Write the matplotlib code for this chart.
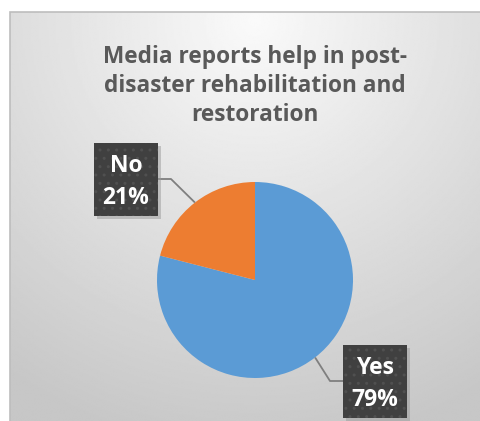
import numpy as np
import matplotlib
matplotlib.use("Agg")
import matplotlib.pyplot as plt
from matplotlib.patches import Rectangle

# data
labels = ["Yes", "No"]
shares = [79, 21]
colors = ["#5B9BD5", "#ED7D31"]
title = "Media reports help in post-\ndisaster rehabilitation and\nrestoration"

W, H = 480, 421
FONT = ["Open Sans", "DejaVu Sans"]

def main():
	fig = plt.figure(figsize=(W / 100, H / 100), dpi=100)
	fig.patch.set_facecolor("white")
	ax = fig.add_axes([0, 0, 1, 1])

	cx, cy, r = 255, H - 280, 98
	ax.pie(shares, colors=colors, startangle=90, counterclock=False,
		center=(cx, cy), radius=r, frame=True,
		wedgeprops=dict(linewidth=0, zorder=2))
	ax.set_aspect("equal")
	ax.axis("off")

	# chart area with radial grey gradient
	x0, y0 = 10, -2
	x1, y1 = W + 2, H - 12
	gx, gy = np.meshgrid(np.linspace(x0, x1, 300), np.linspace(y0, y1, 300))
	d = np.hypot(gx - 255, gy - (H - 20))
	v = 0.98 - 0.20 * np.clip(d / 430.0, 0, 1)
	ax.imshow(v, extent=(x0, x1, y0, y1), origin="lower", cmap="gray",
		vmin=0, vmax=1, zorder=0, interpolation="bilinear")
	ax.add_patch(Rectangle((x0, y0), x1 - x0, y1 - y0, fill=False,
		edgecolor="#bdbdbd", linewidth=1.2, zorder=1))
	ax.set_xlim(0, W)
	ax.set_ylim(0, H)

	ax.text(255, H - 86, title, ha="center", va="center", fontsize=16.3,
		fontweight="bold", color="#595959", family=FONT, linespacing=1.3, zorder=3)

	# label boxes: (box centre x, y), side of the leader line
	boxes = [(375, H - 381, -1), (126, H - 179, 1)]
	bw, bh = 64, 73
	start = 90.0
	for lab, s, (bx, by, side) in zip(labels, shares, boxes):
		mid = start - s / 100 * 360 / 2
		start -= s / 100 * 360
		ex = cx + r * np.cos(np.radians(mid))
		ey = cy + r * np.sin(np.radians(mid))
		lx = bx + side * bw / 2
		kx = lx + side * 13
		ax.plot([lx, kx, ex], [by, by, ey], color="#7f7f7f", linewidth=1.3,
			zorder=3, solid_capstyle="butt")
		ax.add_patch(Rectangle((bx - bw / 2 + 3, by - bh / 2 - 3), bw, bh,
			facecolor="#9a9a9a", edgecolor="none", alpha=0.5, zorder=3))
		ax.add_patch(Rectangle((bx - bw / 2, by - bh / 2), bw, bh,
			facecolor="#404040", edgecolor="#505050", hatch="..", linewidth=0, zorder=4))
		ax.text(bx, by - 3, "%s\n%d%%" % (lab, s), ha="center", va="center",
			fontsize=16.5, fontweight="bold", color="white", family=FONT,
			linespacing=1.45, zorder=5)

	fig.savefig("out.png", dpi=100)

if __name__ == '__main__':
	main()
